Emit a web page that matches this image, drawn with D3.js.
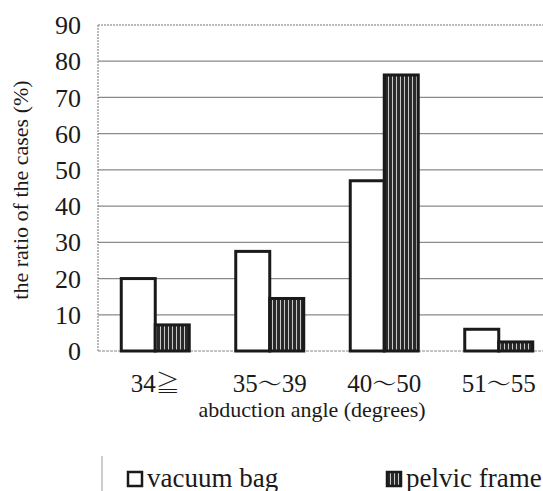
<!DOCTYPE html>
<html>
<head>
<meta charset="utf-8">
<script src="https://cdn.jsdelivr.net/npm/d3@7"></script>
</head>
<body style="margin:0">
<svg width="543" height="491"></svg>
<script>
// данные графика
const categories = ['34≧', '35〜39', '40〜50', '51〜55']
const seriesNames = ['vacuum bag', 'pelvic frame']
const vacuumBag = [20, 27.5, 47, 6]
const pelvicFrame = [7.2, 14.5, 76.2, 2.5]
const yTicks = [0, 10, 20, 30, 40, 50, 60, 70, 80, 90]

const marginLeft = 98
const marginTop = 25
const plotW = 458
const plotH = 326
const serif = 'Times New Roman'
const cjk = 'Noto Serif CJK JP'
const ink = '#1a1a1a'

let svg = d3.select('svg')

// штриховка для pelvic frame
let defs = svg.append('defs')
let pat = defs.append('pattern')
  .attr('id', 'stripes')
  .attr('patternUnits', 'userSpaceOnUse')
  .attr('width', 4).attr('height', 8)
pat.append('rect').attr('width', 4).attr('height', 8).attr('fill', '#2a2a2a')
pat.append('rect').attr('x', 2).attr('width', 1).attr('height', 8).attr('fill', '#c8c8c8')

let scaleX = d3.scaleBand().domain(categories).range([0, plotW])
let scaleY = d3.scaleLinear().domain([0, 90]).range([plotH, 0])
let scaleSub = d3.scaleBand().domain(seriesNames).range([0, 68])

let g = svg.append('g').attr('transform', `translate(${marginLeft}, ${marginTop})`)

// сетка
g.selectAll('.grid')
  .data(yTicks.filter(t => t > 0 && t < 90))
  .enter()
  .append('line')
  .attr('x1', 0).attr('x2', plotW)
  .attr('y1', d => scaleY(d)).attr('y2', d => scaleY(d))
  .attr('stroke', '#8a8a8a').attr('stroke-width', 1.2)

// рамка области построения
g.append('line').attr('x1', 0).attr('x2', plotW).attr('y1', 0).attr('y2', 0)
  .attr('stroke', '#777').attr('stroke-dasharray', '2,1')
g.append('line').attr('x1', 0).attr('x2', 0).attr('y1', 0).attr('y2', plotH)
  .attr('stroke', '#777').attr('stroke-dasharray', '2,1')
g.append('line').attr('x1', 0).attr('x2', plotW).attr('y1', plotH).attr('y2', plotH)
  .attr('stroke', '#888').attr('stroke-dasharray', '3,1')

// столбцы
const series = [vacuumBag, pelvicFrame]
series.forEach((vals, si) => {
  g.selectAll(`.bar-${si}`)
    .data(categories)
    .enter()
    .append('rect')
    .attr('x', d => scaleX(d) + scaleX.bandwidth() / 2 - 34 + scaleSub(seriesNames[si]))
    .attr('y', (d, i) => scaleY(vals[i]))
    .attr('width', scaleSub.bandwidth())
    .attr('height', (d, i) => plotH - scaleY(vals[i]))
    .attr('fill', si === 0 ? '#fff' : 'url(#stripes)')
    .attr('stroke', ink)
    .attr('stroke-width', 3)
})

// подписи оси Y
g.selectAll('.ytick')
  .data(yTicks)
  .enter()
  .append('text')
  .attr('x', -17)
  .attr('y', d => scaleY(d))
  .attr('dy', '0.35em')
  .attr('text-anchor', 'end')
  .attr('font-family', serif)
  .style('font-size', '26px')
  .attr('fill', ink)
  .text(d => d)

// подписи оси X (символы 〜 и ≧ отдельным шрифтом)
g.selectAll('.xtick')
  .data(categories)
  .enter()
  .append('text')
  .attr('x', d => scaleX(d) + scaleX.bandwidth() / 2)
  .attr('y', plotH + 41)
  .attr('text-anchor', 'middle')
  .attr('font-family', serif)
  .style('font-size', '25px')
  .attr('fill', ink)
  .each(function (d) {
    let t = d3.select(this)
    d.split(/([〜≧])/).filter(s => s).forEach(part => {
      let sp = t.append('tspan').text(part)
      if (/[〜≧]/.test(part)) sp.attr('font-family', cjk).style('font-size', '24px')
    })
  })

svg.append('text')
  .attr('x', 312).attr('y', 417)
  .attr('text-anchor', 'middle')
  .attr('font-family', serif)
  .style('font-size', '22px')
  .attr('fill', ink)
  .text('abduction angle (degrees)')

svg.append('text')
  .attr('transform', 'translate(28, 190) rotate(-90)')
  .attr('text-anchor', 'middle')
  .attr('font-family', serif)
  .style('font-size', '22px')
  .attr('fill', ink)
  .text('the ratio of the cases (%)')

// легенда
svg.append('line').attr('x1', 102).attr('x2', 102).attr('y1', 456).attr('y2', 491)
  .attr('stroke', '#999').attr('stroke-width', 1)
const legendX = [128, 387]
seriesNames.forEach((name, i) => {
  svg.append('rect')
    .attr('x', legendX[i]).attr('y', 472)
    .attr('width', 14).attr('height', 14)
    .attr('fill', i === 0 ? '#fff' : 'url(#stripes)')
    .attr('stroke', ink).attr('stroke-width', 2.5)
  svg.append('text')
    .attr('x', legendX[i] + 19).attr('y', 487)
    .attr('font-family', serif)
    .style('font-size', '27px')
    .attr('fill', ink)
    .text(name)
})
</script>
</body>
</html>
